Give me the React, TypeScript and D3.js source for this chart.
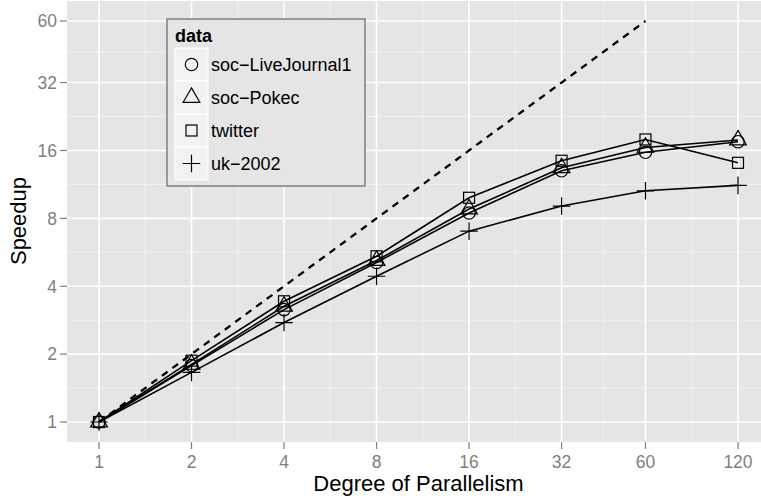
import React from "react";
import * as d3 from "d3";

// Degree of parallelism (x) and measured speedup per dataset (y)
const parallelism = [1, 2, 4, 8, 16, 32, 60, 120];
const liveJournal = [1, 1.78, 3.15, 5.1, 8.45, 13.0, 15.7, 17.5];
const pokec = [1, 1.8, 3.26, 5.2, 8.8, 13.4, 16.5, 17.8];
const twitter = [1, 1.87, 3.43, 5.43, 9.87, 14.4, 17.9, 14.1];
const uk2002 = [1, 1.66, 2.76, 4.43, 7.02, 9.07, 10.6, 11.2];

// Ideal linear speedup reference
const idealX = [1, 60];
const idealY = [1, 60];

const xTicks = [1, 2, 4, 8, 16, 32, 60, 120];
const yTicks = [1, 2, 4, 8, 16, 32, 60];

const seriesNames = ["soc\u2212LiveJournal1", "soc\u2212Pokec", "twitter", "uk\u22122002"];
const seriesValues = [liveJournal, pokec, twitter, uk2002];
const seriesShapes = ["circle", "triangle", "square", "plus"];

const W = 761;
const H = 503;
const FONT = "'Liberation Sans', Arial, Helvetica, sans-serif";

// log2 scales with 5% expansion on each side, ggplot style
const xPos = d3.scaleLog().base(2).domain([1, 120]).range([99, 738]);
const yPos = d3.scaleLog().base(2).domain([1, 60]).range([422, 21]);
const expand = (s: any, v: number) => {
  const [a, b] = s.range();
  return v === 0 ? a - (b - a) * 0.05 : b + (b - a) * 0.05;
};
const panelL = expand(xPos, 0);
const panelR = expand(xPos, 1);
const panelB = expand(yPos, 0);
const panelT = expand(yPos, 1);

const geoMid = (a: number, b: number) => Math.sqrt(a * b);
const xMinor = xTicks.slice(1).map((t, i) => geoMid(xTicks[i], t));
const yMinor = yTicks.slice(1).map((t, i) => geoMid(yTicks[i], t));

const RAD = 6.2;

function Marker({ shape, x, y }: { shape: string; x: number; y: number }) {
  const common = { fill: "none", stroke: "#000", strokeWidth: 1.2 };
  if (shape === "circle") return <circle cx={x} cy={y} r={RAD} {...common} />;
  if (shape === "square") {
    const h = RAD * 0.886;
    return <rect x={x - h} y={y - h} width={2 * h} height={2 * h} {...common} />;
  }
  if (shape === "triangle") {
    const r = 1.555 * RAD;
    const xc = r * Math.sqrt(3) / 2;
    const yc = r / 2;
    const p = `M${x},${y - r}L${x + xc},${y + yc}L${x - xc},${y + yc}Z`;
    return <path d={p} {...common} />;
  }
  const a = Math.SQRT2 * RAD;
  return <path d={`M${x - a},${y}H${x + a}M${x},${y - a}V${y + a}`} {...common} />;
}

export default function App() {
  const line = d3
    .line<[number, number]>()
    .x((d) => xPos(d[0]))
    .y((d) => yPos(d[1]));

  const legendX = 167;
  const legendY = 19;
  const keyX = 175;
  const keyY0 = 48;
  const keyH = 33;

  return (
    <svg
      width={W}
      height={H}
      style={{ position: "absolute", left: 0, top: 0, background: "#fff" }}
      fontFamily={FONT}
    >
      <defs>
        <clipPath id="panel-clip">
          <rect x={panelL} y={panelT} width={panelR - panelL} height={panelB - panelT} />
        </clipPath>
      </defs>
      <rect x={panelL} y={panelT} width={panelR - panelL} height={panelB - panelT} fill="#e5e5e5" />
      <g clipPath="url(#panel-clip)">
        {xMinor.map((t, i) => (
          <line key={"xm" + i} x1={xPos(t)} x2={xPos(t)} y1={panelT} y2={panelB} stroke="#f2f2f2" strokeWidth={0.8} />
        ))}
        {yMinor.map((t, i) => (
          <line key={"ym" + i} y1={yPos(t)} y2={yPos(t)} x1={panelL} x2={panelR} stroke="#f2f2f2" strokeWidth={0.8} />
        ))}
        {xTicks.map((t) => (
          <line key={"xg" + t} x1={xPos(t)} x2={xPos(t)} y1={panelT} y2={panelB} stroke="#fff" strokeWidth={1.6} />
        ))}
        {yTicks.map((t) => (
          <line key={"yg" + t} y1={yPos(t)} y2={yPos(t)} x1={panelL} x2={panelR} stroke="#fff" strokeWidth={1.6} />
        ))}
        <path
          d={line(idealX.map((x, i) => [x, idealY[i]]) as [number, number][]) || ""}
          fill="none"
          stroke="#000"
          strokeWidth={2.3}
          strokeDasharray="7,6"
        />
        {seriesValues.map((vals, si) => (
          <path
            key={"l" + si}
            d={line(parallelism.map((x, i) => [x, vals[i]]) as [number, number][]) || ""}
            fill="none"
            stroke="#000"
            strokeWidth={1.6}
          />
        ))}
        {seriesValues.map((vals, si) =>
          parallelism.map((x, i) => (
            <Marker key={`m${si}-${i}`} shape={seriesShapes[si]} x={xPos(x)} y={yPos(vals[i])} />
          ))
        )}
      </g>

      {/* axes */}
      {xTicks.map((t) => (
        <g key={"xt" + t}>
          <line x1={xPos(t)} x2={xPos(t)} y1={panelB} y2={panelB + 7} stroke="#7f7f7f" strokeWidth={1.2} />
          <text x={xPos(t)} y={468} textAnchor="middle" fontSize={17.5} fill="#7f7f7f">
            {t}
          </text>
        </g>
      ))}
      {yTicks.map((t) => (
        <g key={"yt" + t}>
          <line x1={panelL - 7} x2={panelL} y1={yPos(t)} y2={yPos(t)} stroke="#7f7f7f" strokeWidth={1.2} />
          <text x={panelL - 10} y={yPos(t)} dy="0.36em" textAnchor="end" fontSize={17.5} fill="#7f7f7f">
            {t}
          </text>
        </g>
      ))}
      <text x={(panelL + panelR) / 2} y={491} textAnchor="middle" fontSize={22} fill="#000">
        Degree of Parallelism
      </text>
      <text
        transform={`translate(26,${221}) rotate(-90)`}
        textAnchor="middle"
        fontSize={22}
        fill="#000"
      >
        Speedup
      </text>

      {/* legend */}
      <rect x={legendX} y={legendY} width={198} height={167} fill="#e5e5e5" stroke="#7f7f7f" strokeWidth={1.5} />
      <text x={175} y={42} fontSize={18} fontWeight="bold" fill="#000">
        data
      </text>
      {seriesNames.map((name, i) => {
        const ky = keyY0 + i * keyH;
        return (
          <g key={"lg" + i}>
            <rect x={keyX} y={ky} width={keyH} height={keyH} fill="#f2f2f2" stroke="#fff" strokeWidth={1} />
            <Marker shape={seriesShapes[i]} x={keyX + keyH / 2} y={ky + keyH / 2} />
            <text x={211} y={ky + keyH / 2} dy="0.36em" fontSize={18} fill="#000">
              {name}
            </text>
          </g>
        );
      })}
    </svg>
  );
}
